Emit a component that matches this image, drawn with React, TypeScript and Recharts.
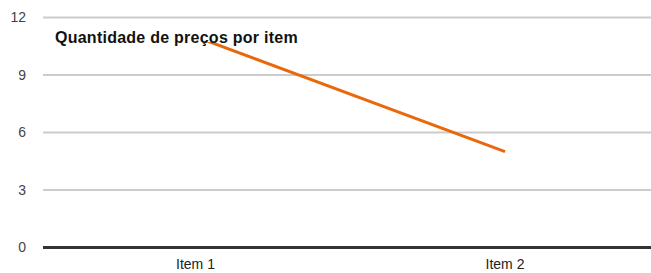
import { LineChart, Line, XAxis, YAxis, CartesianGrid } from 'recharts';

const items = ['Item 1', 'Item 2'];
const priceCounts = [11, 5];
const yTicks = [0, 3, 6, 9, 12];

const data = items.map((name, i) => ({ name, count: priceCounts[i] }));

const font = '"Liberation Sans", Arial, sans-serif';

export default function App() {
  return (
    <div style={{ position: 'absolute', left: 0, top: 0, width: 651, height: 273, fontFamily: font }}>
      <LineChart
        width={651}
        height={273}
        data={data}
        margin={{ top: 17.5, right: 0, bottom: 0, left: 0 }}
      >
        <CartesianGrid vertical={false} stroke="#cccccc" strokeWidth={2} />
        <XAxis
          dataKey="name"
          height={25.5}
          padding={{ left: 152.5, right: 146 }}
          tickLine={false}
          tickSize={0}
          tickMargin={12}
          axisLine={{ stroke: '#333333', strokeWidth: 3 }}
          tick={{ fontSize: 14, fill: '#222222', fontFamily: font }}
        />
        <YAxis
          domain={[0, 12]}
          ticks={yTicks}
          width={43}
          axisLine={false}
          tickLine={false}
          tickSize={0}
          tickMargin={17}
          tick={{ fontSize: 14, fill: '#444444', fontFamily: font }}
        />
        <Line
          type="linear"
          dataKey="count"
          stroke="#e8680c"
          strokeWidth={3}
          dot={false}
          isAnimationActive={false}
        />
      </LineChart>
      {/* title sits on a white box that hides the start of the line */}
      <div style={{ position: 'absolute', left: 48, top: 28, width: 256, height: 14, background: '#ffffff' }} />
      <div
        style={{
          position: 'absolute',
          left: 55,
          top: 29,
          fontSize: 16,
          fontWeight: 'bold',
          letterSpacing: 0.25,
          color: '#111111',
          lineHeight: '17px',
          whiteSpace: 'nowrap',
        }}
      >
        Quantidade de preços por item
      </div>
    </div>
  );
}
